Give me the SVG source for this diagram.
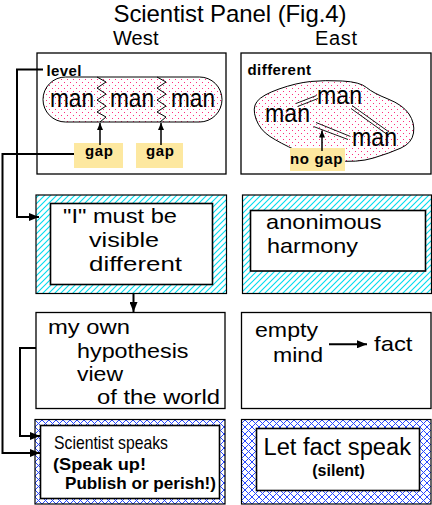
<svg xmlns="http://www.w3.org/2000/svg" width="432" height="505" viewBox="0 0 432 505">
<style>
text{font-family:"Liberation Sans",Arial,sans-serif;fill:#000}
.box{fill:#fff;stroke:#000;stroke-width:1.3}
.in{fill:#fff;stroke:#000;stroke-width:1.6}
.c{fill:none;stroke:#000;stroke-width:2}
.t21{font-size:21px}
.lab{font-size:15px;font-weight:bold}
.man{font-size:25px}
.dl{stroke:#000;stroke-width:0.9}
.yel{fill:#fde8a0}
</style>
<defs>
<pattern id="pink" width="6" height="6" patternUnits="userSpaceOnUse">
<rect width="6" height="6" fill="#fff"/>
<rect x="1" y="1" width="1" height="1" fill="#ff2d7d"/>
<rect x="4" y="4" width="1" height="1" fill="#ff2d7d"/>
</pattern>
<pattern id="cyan" width="6" height="6" patternUnits="userSpaceOnUse">
<rect width="6" height="6" fill="#fff"/>
<path d="M0,6 L6,0 M-1,1 L1,-1 M5,7 L7,5" stroke="#00dcf0" stroke-width="1.1"/>
</pattern>
<pattern id="blue" width="7" height="7" patternUnits="userSpaceOnUse">
<rect width="7" height="7" fill="#fff"/>
<path d="M0,7 L7,0 M-1,1 L1,-1 M6,8 L8,6 M0,0 L7,7 M-1,6 L1,8 M6,-1 L8,1" stroke="#2848ff" stroke-width="1"/>
</pattern>
<marker id="ah" markerWidth="10" markerHeight="8" refX="10" refY="4" orient="auto" markerUnits="userSpaceOnUse">
<path d="M0,0 L10,4 L0,8 Z" fill="#000"/>
</marker>
<marker id="as" markerWidth="7" markerHeight="6" refX="7" refY="3" orient="auto" markerUnits="userSpaceOnUse">
<path d="M0,0 L7,3 L0,6 Z" fill="#000"/>
</marker>
</defs>
<rect width="432" height="505" fill="#fff"/>

<g id="title">
<text x="113.5" y="22" font-size="24" textLength="233">Scientist Panel (Fig.4)</text>
<text x="113" y="44.5" font-size="20" textLength="45.5">West</text>
<text x="315" y="44.5" font-size="20" textLength="42">East</text>
</g>

<g id="west-level">
<rect class="box" x="37" y="53" width="189" height="121"/>
<text class="lab" x="46.5" y="75.5" textLength="35">level</text>
<rect x="43" y="77" width="179" height="45" rx="22.5" fill="url(#pink)" stroke="#000" stroke-width="1"/>
<text class="man" x="50" y="106.5" textLength="44" lengthAdjust="spacingAndGlyphs">man</text>
<text class="man" x="110" y="106.5" textLength="44" lengthAdjust="spacingAndGlyphs">man</text>
<text class="man" x="171" y="106.5" textLength="44" lengthAdjust="spacingAndGlyphs">man</text>
<polyline fill="none" stroke="#000" stroke-width="1" points="97,77 106,82 97,88 106,94 97,100 106,106 97,112 106,117 100,122"/>
<polyline fill="none" stroke="#000" stroke-width="1" points="157,77 166,82 157,88 166,94 157,100 166,106 157,112 166,117 160,122"/>
<rect class="yel" x="74" y="143" width="49" height="25"/>
<rect class="yel" x="136" y="143" width="47" height="25"/>
<text class="lab" x="85" y="156" font-size="16" textLength="28">gap</text>
<text class="lab" x="146" y="156" font-size="16" textLength="28">gap</text>
<line x1="100" y1="145" x2="100" y2="123" stroke="#000" stroke-width="1.5" marker-end="url(#as)"/>
<line x1="161" y1="145" x2="161" y2="123" stroke="#000" stroke-width="1.5" marker-end="url(#as)"/>
</g>

<g id="east-level">
<rect class="box" x="241" y="53" width="190" height="121"/>
<text class="lab" x="247.5" y="75" textLength="63.5">different</text>
<path d="M256,119 Q252,108 257,101.5 Q262,95 279,89 Q296,83 310.5,81.5 Q325,80 342.5,81 Q360,82 366.5,87.5 Q373,93 388,99 Q403,105 409,114 Q415,123 413.5,133 Q412,143 401,148 Q390,153 373.5,158 Q357,163 335,160.5 Q313,158 296.5,150.5 Q280,143 270,136.5 Q260,130 256,119 Z" fill="url(#pink)" stroke="#000" stroke-width="1"/>
<text class="man" x="317" y="103.5" textLength="45" lengthAdjust="spacingAndGlyphs">man</text>
<text class="man" x="265" y="121.5" textLength="45" lengthAdjust="spacingAndGlyphs">man</text>
<text class="man" x="352" y="146" textLength="45" lengthAdjust="spacingAndGlyphs">man</text>
<line class="dl" x1="296" y1="103.5" x2="316.5" y2="95.5"/>
<line class="dl" x1="297.5" y1="106.5" x2="318" y2="98.5"/>
<line class="dl" x1="352" y1="105.5" x2="389" y2="132"/>
<line class="dl" x1="351" y1="108.5" x2="386.5" y2="134"/>
<line class="dl" x1="316" y1="122.5" x2="350.5" y2="136.5"/>
<line class="dl" x1="313.5" y1="126.5" x2="348" y2="139.5"/>
<rect class="yel" x="290" y="148" width="55" height="23"/>
<text class="lab" x="290" y="164" font-size="16" textLength="52.5">no gap</text>
<line x1="322" y1="151" x2="322" y2="130.5" stroke="#000" stroke-width="1.5" marker-end="url(#as)"/>
</g>

<g id="west-self">
<rect x="36" y="195" width="190.5" height="98.5" fill="url(#cyan)" stroke="#000" stroke-width="1.2"/>
<rect class="in" x="50.5" y="203.5" width="162" height="81"/>
<text class="t21" x="63" y="223" textLength="114" lengthAdjust="spacingAndGlyphs">"I" must be</text>
<text class="t21" x="89" y="246.7" textLength="70" lengthAdjust="spacingAndGlyphs">visible</text>
<text class="t21" x="89" y="270.7" textLength="93" lengthAdjust="spacingAndGlyphs">different</text>
</g>

<g id="east-self">
<rect x="242.5" y="195" width="189" height="98.5" fill="url(#cyan)" stroke="#000" stroke-width="1.2"/>
<rect class="in" x="250.5" y="210.5" width="175" height="60.5"/>
<text class="t21" x="266" y="229" textLength="115.5" lengthAdjust="spacingAndGlyphs">anonimous</text>
<text class="t21" x="267" y="252.5" textLength="91" lengthAdjust="spacingAndGlyphs">harmony</text>
</g>

<g id="west-view">
<rect class="box" x="36" y="312.5" width="189" height="96"/>
<text class="t21" x="48" y="334" textLength="82" lengthAdjust="spacingAndGlyphs">my own</text>
<text class="t21" x="77" y="357.5" textLength="111.5" lengthAdjust="spacingAndGlyphs">hypothesis</text>
<text class="t21" x="77" y="380.5" textLength="46" lengthAdjust="spacingAndGlyphs">view</text>
<text class="t21" x="97" y="403.5" textLength="123" lengthAdjust="spacingAndGlyphs">of the world</text>
</g>

<g id="east-view">
<rect class="box" x="241.5" y="312.5" width="189.5" height="96"/>
<text class="t21" x="255" y="337" textLength="63" lengthAdjust="spacingAndGlyphs">empty</text>
<text class="t21" x="273" y="361.5" textLength="50" lengthAdjust="spacingAndGlyphs">mind</text>
<text class="t21" x="374" y="351" textLength="38.5" lengthAdjust="spacingAndGlyphs">fact</text>
<line x1="329" y1="344.3" x2="367" y2="344.3" stroke="#000" stroke-width="2" marker-end="url(#ah)"/>
</g>

<g id="west-speak">
<rect x="35" y="419.5" width="190" height="84.5" fill="url(#blue)" stroke="#000" stroke-width="1.2"/>
<rect class="in" x="40.5" y="425.5" width="179" height="73"/>
<text x="54" y="449" font-size="19" textLength="114" lengthAdjust="spacingAndGlyphs">Scientist speaks</text>
<text x="53" y="469.5" font-size="17" font-weight="bold" textLength="93" lengthAdjust="spacingAndGlyphs">(Speak up!</text>
<text x="65" y="488.5" font-size="17" font-weight="bold" textLength="151" lengthAdjust="spacingAndGlyphs">Publish or perish!)</text>
</g>

<g id="east-speak">
<rect x="241.5" y="419.5" width="189.5" height="84.5" fill="url(#blue)" stroke="#000" stroke-width="1.2"/>
<rect class="in" x="256.5" y="428.5" width="163" height="62"/>
<text x="263.5" y="455" font-size="23" textLength="147.5" lengthAdjust="spacingAndGlyphs">Let fact speak</text>
<text x="338.5" y="475.5" font-size="16" font-weight="bold" text-anchor="middle">(silent)</text>
</g>

<g id="connectors">
<polyline class="c" points="43,69.5 17,69.5 17,217 39,217" marker-end="url(#ah)"/>
<polyline class="c" points="74,154 2.5,154 2.5,453 40,453" marker-end="url(#ah)"/>
<polyline class="c" points="36,348 20,348 20,436 40,436" marker-end="url(#ah)"/>
<line class="c" x1="133.5" y1="293.5" x2="133.5" y2="312" marker-end="url(#ah)"/>
</g>
</svg>
